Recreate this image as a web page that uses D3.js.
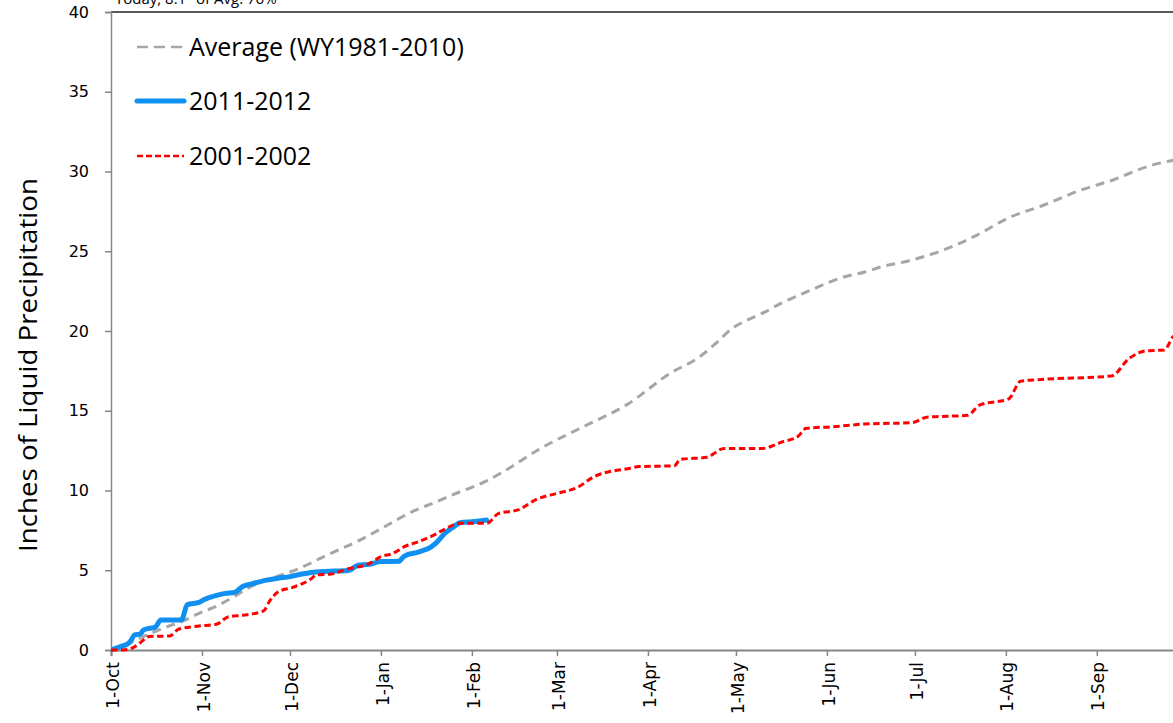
<!DOCTYPE html>
<html>
<head>
<meta charset="utf-8">
<script src="https://cdn.jsdelivr.net/npm/d3@7/dist/d3.min.js"></script>
<style>
  html, body { margin: 0; padding: 0; background: #fff; }
  svg { display: block; }
</style>
</head>
<body>
<svg id="chart" width="1173" height="723"></svg>
<script>
// Cumulative water-year precipitation (inches), Oct 1 - Sep 30.

// 30-year average, WY1981-2010
const avgDates = ["2011-10-01","2011-10-08","2011-10-14","2011-10-20","2011-10-26","2011-10-31",
  "2011-11-06","2011-11-12","2011-11-18","2011-11-25","2011-12-04","2011-12-13","2011-12-26",
  "2012-01-01","2012-01-12","2012-01-20","2012-01-25","2012-02-06","2012-02-11","2012-02-25",
  "2012-03-10","2012-03-25","2012-04-09","2012-04-18","2012-04-24","2012-04-30","2012-05-05",
  "2012-05-11","2012-05-16","2012-05-27","2012-06-01","2012-06-07","2012-06-14","2012-06-19",
  "2012-06-29","2012-07-11","2012-07-22","2012-08-02","2012-08-14","2012-08-26","2012-09-07",
  "2012-09-18","2012-09-30"];
const avgValues = [0, 0.5, 1.0, 1.45, 1.85, 2.3,
  2.75, 3.35, 4.0, 4.5, 5.1, 5.9, 7.0,
  7.6, 8.7, 9.3, 9.7, 10.6, 11.1, 12.7,
  14.0, 15.4, 17.4, 18.3, 19.2, 20.2, 20.7,
  21.2, 21.7, 22.6, 23.0, 23.4, 23.7, 24.0,
  24.4, 25.1, 26.0, 27.1, 27.9, 28.8, 29.5,
  30.3, 30.8];

// Water year 2011-2012 (to date)
const wy2012Dates = ["2011-10-01","2011-10-04","2011-10-07","2011-10-08","2011-10-09","2011-10-11",
  "2011-10-12","2011-10-14","2011-10-16","2011-10-18","2011-10-25","2011-10-27","2011-10-31",
  "2011-11-02","2011-11-06","2011-11-09","2011-11-12","2011-11-15","2011-11-18","2011-11-23",
  "2011-11-27","2011-12-01","2011-12-05","2011-12-09","2011-12-16","2011-12-21","2011-12-24",
  "2011-12-28","2012-01-01","2012-01-07","2012-01-09","2012-01-14","2012-01-18","2012-01-20",
  "2012-01-23","2012-01-26","2012-01-28","2012-02-02","2012-02-06"];
const wy2012Values = [0, 0.2, 0.42, 0.65, 0.95, 1.0,
  1.25, 1.36, 1.42, 1.88, 1.88, 2.85, 2.98,
  3.18, 3.42, 3.55, 3.6, 4.0, 4.15, 4.38,
  4.5, 4.6, 4.76, 4.88, 4.95, 4.98, 5.3,
  5.37, 5.55, 5.56, 5.89, 6.15, 6.45, 6.75,
  7.35, 7.75, 7.98, 8.05, 8.15];

// Water year 2001-2002, placed on the same Oct-Sep calendar
const wy2002Dates = ["2011-10-01","2011-10-05","2011-10-09","2011-10-11","2011-10-14","2011-10-21",
  "2011-10-24","2011-10-31","2011-11-06","2011-11-10","2011-11-15","2011-11-22","2011-11-24",
  "2011-11-27","2011-12-02","2011-12-08","2011-12-10","2011-12-15","2011-12-20","2011-12-28",
  "2012-01-01","2012-01-05","2012-01-09","2012-01-14","2012-01-19","2012-01-22","2012-01-28",
  "2012-02-06","2012-02-10","2012-02-17","2012-02-23","2012-03-01","2012-03-08","2012-03-14",
  "2012-03-26","2012-03-29","2012-04-10","2012-04-12","2012-04-21","2012-04-27","2012-05-10",
  "2012-05-17","2012-05-22","2012-05-25","2012-06-03","2012-06-14","2012-06-30","2012-07-05",
  "2012-07-19","2012-07-23","2012-08-02","2012-08-06","2012-08-12","2012-09-06","2012-09-12",
  "2012-09-18","2012-09-24","2012-09-27","2012-09-30"];
const wy2002Values = [0, 0, 0.2, 0.46, 0.85, 0.88,
  1.3, 1.5, 1.62, 2.08, 2.18, 2.45, 3.05,
  3.65, 3.93, 4.43, 4.7, 4.76, 5.05, 5.42,
  5.85, 6.05, 6.48, 6.8, 7.2, 7.5, 7.94,
  7.94, 8.55, 8.8, 9.45, 9.82, 10.2, 10.9,
  11.4, 11.5, 11.55, 11.95, 12.08, 12.64, 12.64,
  13.06, 13.37, 13.9, 14.0, 14.17, 14.25, 14.59,
  14.72, 15.35, 15.75, 16.85, 16.95, 17.18, 18.28,
  18.76, 18.81, 19.64, 20.0];

const yTicks = [0, 5, 10, 15, 20, 25, 30, 35, 40];

const legendLabels = ["Average (WY1981-2010)", "2011-2012", "2001-2002"];
const headline = "Today, 8.1\" of Avg. 76%";

const parse = d3.timeParse("%Y-%m-%d");
const zip = (ds, vs) => ds.map((d, i) => ({ date: parse(d), v: vs[i] }));
const avgSeries = zip(avgDates, avgValues);
const s2012 = zip(wy2012Dates, wy2012Values);
const s2002 = zip(wy2002Dates, wy2002Values);

const svg = d3.select("#chart");
const plotLeft = 111, plotTop = 12, plotBottom = 650, plotRight = 1173;
const pxPerDay = 2.934;
const start = parse("2011-10-01"), end = parse("2012-10-01");
const days = d3.timeDay.count(start, end);

const x = d3.scaleTime().domain([start, end]).range([plotLeft, plotLeft + days * pxPerDay]);
const y = d3.scaleLinear().domain([0, 40]).range([plotBottom, plotTop]);

// month ticks that fall inside the visible width
const monthTicks = d3.timeMonth.range(start, end).filter(d => x(d) <= plotRight);

// headline, mostly above the visible area
svg.append("text")
  .attr("x", 115).attr("y", 4)
  .attr("font-family", "Open Sans, sans-serif")
  .attr("font-size", 15)
  .attr("fill", "#000")
  .text(headline);

// top border of the plot area
svg.append("line")
  .attr("x1", plotLeft).attr("x2", plotRight)
  .attr("y1", plotTop).attr("y2", plotTop)
  .attr("stroke", "#595959").attr("stroke-width", 2);

// y axis
const yAxis = svg.append("g")
  .attr("transform", `translate(${plotLeft},0)`)
  .call(d3.axisLeft(y).tickValues(yTicks).tickSize(6).tickPadding(16).tickFormat(d3.format("d")));
yAxis.select(".domain").attr("stroke", "#868686").attr("stroke-width", 1.5);
yAxis.selectAll(".tick line").attr("stroke", "#868686").attr("stroke-width", 1.5);
yAxis.selectAll(".tick text")
  .attr("font-family", "DejaVu Sans, sans-serif")
  .attr("font-size", 16)
  .attr("fill", "#000");

// x axis, one tick per month
const xAxis = svg.append("g")
  .attr("transform", `translate(0,${plotBottom})`)
  .call(d3.axisBottom(x)
    .tickValues(monthTicks)
    .tickSize(6)
    .tickFormat(d3.timeFormat("%-d-%b")));
xAxis.select(".domain").attr("stroke", "#868686").attr("stroke-width", 2);
xAxis.selectAll(".tick line").attr("stroke", "#868686").attr("stroke-width", 1.5);
xAxis.selectAll(".tick text")
  .attr("font-family", "DejaVu Sans, sans-serif")
  .attr("font-size", 17)
  .attr("fill", "#000")
  .attr("transform", "rotate(-90)")
  .attr("text-anchor", "end")
  .attr("x", -12)
  .attr("y", 1)
  .attr("dy", "0.36em");

// y axis title
svg.append("text")
  .attr("transform", `translate(37,${(178 + 552) / 2}) rotate(-90)`)
  .attr("text-anchor", "middle")
  .attr("font-family", "Open Sans, sans-serif")
  .attr("font-size", 26)
  .attr("textLength", 374)
  .attr("lengthAdjust", "spacingAndGlyphs")
  .attr("fill", "#000")
  .text("Inches of Liquid Precipitation");

// series
const styles = [
  { color: "#A6A6A6", width: 3, dash: "9,6" },
  { color: "#1090F0", width: 5, dash: null },
  { color: "#FF0000", width: 3, dash: "6.5,3.5" }
];

svg.append("clipPath").attr("id", "plot-clip")
  .append("rect").attr("x", plotLeft).attr("y", 0)
  .attr("width", plotRight - plotLeft).attr("height", plotBottom + 4);

const plot = svg.append("g").attr("clip-path", "url(#plot-clip)");

const lineGen = d3.line().x(d => x(d.date)).y(d => y(d.v)).curve(d3.curveMonotoneX);

[[avgSeries, styles[0]], [s2012, styles[1]], [s2002, styles[2]]]
  .forEach(([data, st]) => {
    plot.append("path")
      .datum(data)
      .attr("d", lineGen)
      .attr("fill", "none")
      .attr("stroke", st.color)
      .attr("stroke-width", st.width)
      .attr("stroke-linejoin", "round")
      .attr("stroke-linecap", st.dash ? "butt" : "round")
      .attr("stroke-dasharray", st.dash);
  });

// legend
const legendY = [47, 101, 156];
const legend = svg.append("g");
legendLabels.forEach((label, i) => {
  const st = styles[i];
  legend.append("line")
    .attr("x1", 137).attr("x2", 184)
    .attr("y1", legendY[i]).attr("y2", legendY[i])
    .attr("stroke", st.color)
    .attr("stroke-width", i === 1 ? 5 : 2.5)
    .attr("stroke-linecap", i === 1 ? "round" : "butt")
    .attr("stroke-dasharray", i === 0 ? "11,6" : (i === 2 ? "6,3" : null));
  legend.append("text")
    .attr("x", 189).attr("y", legendY[i] + 9)
    .attr("font-family", "Open Sans, sans-serif")
    .attr("font-size", 25)
    .attr("fill", "#000")
    .text(label);
});
</script>
</body>
</html>
